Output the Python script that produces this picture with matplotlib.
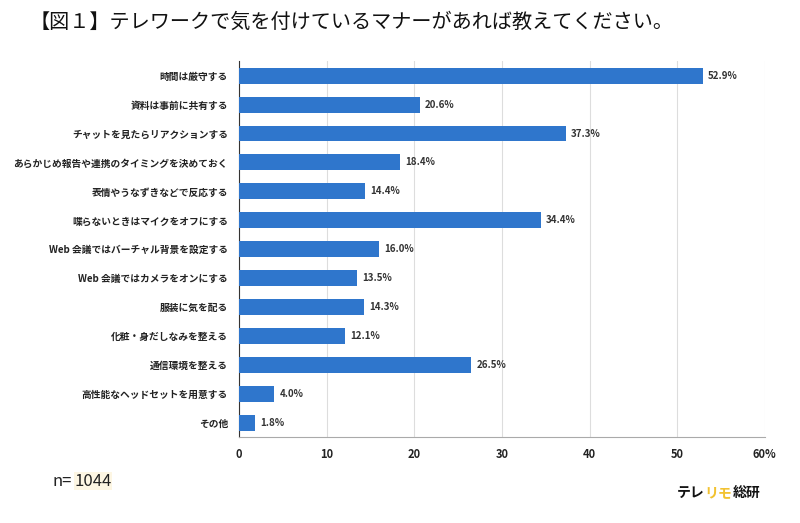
import numpy as np
import matplotlib.pyplot as plt
from matplotlib.ticker import FixedLocator, FixedFormatter

plt.rcParams['font.family'] = ['Noto Sans CJK JP', 'DejaVu Sans']

labels = ['時間は厳守する', '資料は事前に共有する', 'チャットを見たらリアクションする',
          'あらかじめ報告や連携のタイミングを決めておく', '表情やうなずきなどで反応する',
          '喋らないときはマイクをオフにする', 'Web 会議ではバーチャル背景を設定する',
          'Web 会議ではカメラをオンにする', '服装に気を配る', '化粧・身だしなみを整える',
          '通信環境を整える', '高性能なヘッドセットを用意する', 'その他']
values = [52.9, 20.6, 37.3, 18.4, 14.4, 34.4, 16.0, 13.5, 14.3, 12.1, 26.5, 4.0, 1.8]
ticks = [0, 10, 20, 30, 40, 50, 60]
tick_labels = ['0', '10', '20', '30', '40', '50', '60%']

fig = plt.figure(figsize=(8, 5.23), dpi=100)
ax = fig.add_axes([0.299, 0.164, 0.657, 0.719])

y = np.arange(len(labels))
ax.barh(y, values, height=0.55, color='#2F76CC', zorder=3)
for yi, v in zip(y, values):
    ax.text(v + 0.6, yi, f'{v:.1f}%', va='center', ha='left', fontsize=7,
            fontweight='bold', color='#333333')

ax.set_ylim(len(labels) - 0.5, -0.5)
ax.set_xlim(0, 60)
ax.set_yticks(y)
ax.set_yticklabels(labels, fontsize=7, fontweight='bold', color='#222222')
ax.xaxis.set_major_locator(FixedLocator(ticks))
ax.xaxis.set_major_formatter(FixedFormatter(tick_labels))
ax.tick_params(axis='x', length=0, labelsize=8, pad=8, colors='#222222')
ax.tick_params(axis='y', length=0, pad=8)
for t in ax.get_xticklabels():
    t.set_fontweight('bold')
ax.grid(axis='x', color='#dddddd', linewidth=0.8, zorder=0)
for s in ['top', 'right']:
    ax.spines[s].set_visible(False)
ax.spines['left'].set_color('#333333')
ax.spines['bottom'].set_color('#aaaaaa')

fig.text(0.037, 0.957, '【図１】テレワークで気を付けているマナーがあれば教えてください。',
         fontsize=14.5, va='center', ha='left', color='#111111')
fig.text(0.065, 0.08, 'n=', fontsize=12, va='center', ha='left', color='#222222')
fig.text(0.093, 0.08, '1044', fontsize=12, va='center', ha='left', color='#222222',
         bbox=dict(facecolor='#fdf6e3', edgecolor='none', pad=0.5))

# logo: chain the three parts so they sit flush
renderer = fig.canvas.get_renderer()
x0 = 0.846
for part, col in [('テレ', '#111111'), ('リモ', '#F2C230'), ('総研', '#111111')]:
    t = fig.text(x0, 0.058, part, fontsize=10, fontweight='bold', va='center',
                 ha='left', color=col)
    bb = t.get_window_extent(renderer).transformed(fig.transFigure.inverted())
    x0 = bb.x1

fig.savefig('out.png', dpi=100, facecolor='white')
